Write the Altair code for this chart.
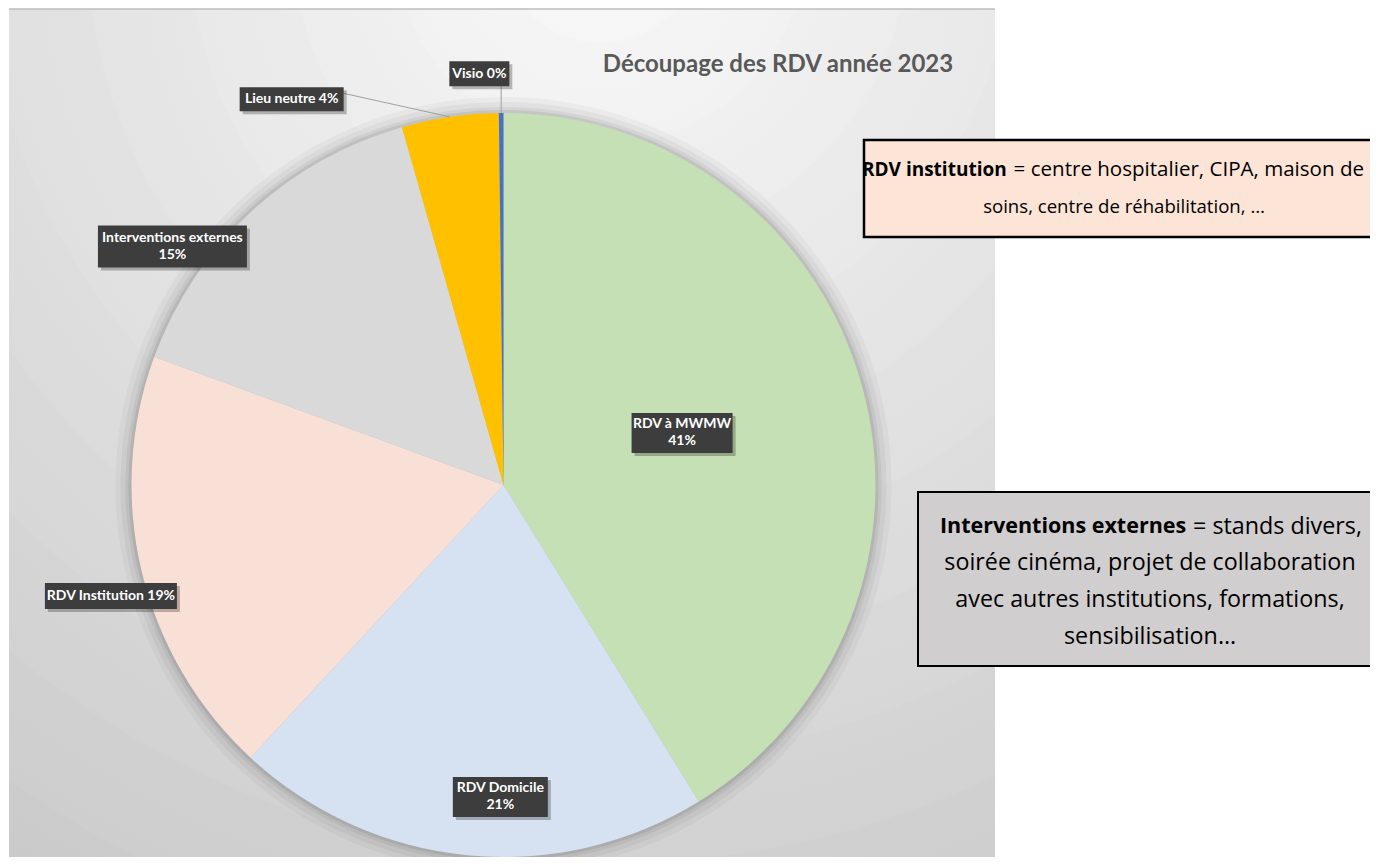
import math
import altair as alt
import pandas as pd

# ---------------- data ----------------
categories = ["RDV à MWMW", "RDV Domicile", "RDV Institution",
              "Interventions externes", "Lieu neutre", "Visio"]
values = [41.2, 20.7, 18.7, 15.0, 4.2, 0.2]
slice_colors = ["#c5e0b4", "#d6e1f2", "#f9e0d6", "#d9d9d9", "#ffc000", "#4472c4"]
title_text = "Découpage des RDV année 2023"

note1_bold = "RDV institution"
note1_rest = ["= centre hospitalier, CIPA, maison de", "soins, centre de réhabilitation, …"]
note2_bold = "Interventions externes"
note2_rest = ["= stands divers,", "soirée cinéma, projet de collaboration",
              "avec autres institutions, formations,", "sensibilisation…"]

# ---------------- layout (styles / positions) ----------------
W, H = 1362, 849
CX, CY, R = 495.5, 477, 372
label_two_lines = [True, True, False, True, False, False]
label_radius = [186, 312, 408, 408, 440, 412]
label_angle_shift = [-0.4, -5.0, -2.3, -11.4, -20.5, -3.0]
label_box_w = [101, 95, 132, 149, 104, 60]
label_box_h = [40, 40, 26, 42, 24, 25]
leader_kind = ["", "", "", "", "side", "below"]
LH = 17
FONT = "Lato"
NFONT = "Open Sans"

total = sum(values)
pie_df = pd.DataFrame({"category": categories, "value": values,
                       "idx": list(range(len(values)))})
one = pd.DataFrame({"k": [0]})

rows, leaders = [], []
cum = 0.0
for i, (cat, v) in enumerate(zip(categories, values)):
    mid_deg = (cum + v / 2) / total * 360
    cum += v
    a = math.radians(mid_deg + label_angle_shift[i])
    cx = CX + label_radius[i] * math.sin(a)
    cy = CY - label_radius[i] * math.cos(a)
    pct = f"{round(v / total * 100)}%"
    lines = [cat, pct] if label_two_lines[i] else [f"{cat} {pct}"]
    w, h = label_box_w[i], label_box_h[i]
    rows.append({"cx": cx, "cy": cy, "ty": cy - (len(lines) - 1) * LH / 2,
                 "x1": cx - w / 2, "x2": cx + w / 2,
                 "y1": cy - h / 2, "y2": cy + h / 2,
                 "sx1": cx - w / 2 + 3, "sx2": cx + w / 2 + 3,
                 "sy1": cy - h / 2 + 3, "sy2": cy + h / 2 + 3,
                 "lines": lines})
    am = math.radians(mid_deg)
    ex, ey = CX + R * math.sin(am), CY - R * math.cos(am)
    if leader_kind[i] == "side":
        leaders.append({"lx": cx + w / 2, "ly": cy - 6, "lx2": ex, "ly2": ey})
    elif leader_kind[i] == "below":
        leaders.append({"lx": ex, "ly": cy + h / 2, "lx2": ex, "ly2": ey})
lab_df = pd.DataFrame(rows)
lead_df = pd.DataFrame(leaders)

xs = alt.Scale(domain=[0, W], range=[0, W])
ys = alt.Scale(domain=[0, H], range=[0, H])

# ---------------- background panel ----------------
stops = []
nb = 12
for i in range(nb):
    t0, t1 = i / nb, (i + 1) / nb
    c0 = int(249 - 54 * t0)
    c1 = int(249 - 54 * t1) + 2
    stops.append(alt.GradientStop(offset=t0, color=f"rgb({c0},{c0},{c0})"))
    stops.append(alt.GradientStop(offset=t1, color=f"rgb({c1},{c1},{c1})"))
grad = alt.Gradient(gradient="radial", stops=stops,
                    x1=0.6, y1=0.0, r1=0.0, x2=0.6, y2=0.0, r2=1.25)

bg = alt.Chart(one).mark_rect(fill=grad).encode(
    x=alt.value(1), x2=alt.value(987), y=alt.value(1), y2=alt.value(H))
top_line = alt.Chart(one).mark_rule(color="#bdbdbd", strokeWidth=1.5).encode(
    x=alt.value(1), x2=alt.value(987), y=alt.value(1))

halos = []
for rad, op in [(388, 0.03), (383, 0.04), (378, 0.05), (375, 0.07)]:
    halos.append(alt.Chart(one).mark_arc(
        radius=rad, theta=0, theta2=2 * math.pi, color="#000000", opacity=op
    ).encode(x=alt.value(CX), y=alt.value(CY)))

pie = alt.Chart(pie_df).mark_arc(radius=R).encode(
    theta=alt.Theta("value:Q", stack=True),
    order=alt.Order("idx:Q"),
    color=alt.Color("category:N", scale=alt.Scale(domain=categories, range=slice_colors),
                    legend=None),
    x=alt.value(CX), y=alt.value(CY))

# ---------------- data labels ----------------
lead = alt.Chart(lead_df).mark_rule(color="#a0a0a0", strokeWidth=1).encode(
    x=alt.X("lx:Q", scale=xs, axis=None), y=alt.Y("ly:Q", scale=ys, axis=None),
    x2="lx2:Q", y2="ly2:Q")
shadow = alt.Chart(lab_df).mark_rect(color="#000000", opacity=0.25).encode(
    x=alt.X("sx1:Q", scale=xs, axis=None), x2="sx2:Q",
    y=alt.Y("sy1:Q", scale=ys, axis=None), y2="sy2:Q")
box = alt.Chart(lab_df).mark_rect(color="#3d3d3d").encode(
    x=alt.X("x1:Q", scale=xs, axis=None), x2="x2:Q",
    y=alt.Y("y1:Q", scale=ys, axis=None), y2="y2:Q")
txt = alt.Chart(lab_df).mark_text(font=FONT, fontWeight="bold", fontSize=14,
                                  color="white", lineHeight=LH, baseline="middle").encode(
    x=alt.X("cx:Q", scale=xs, axis=None), y=alt.Y("ty:Q", scale=ys, axis=None),
    text="lines")

title = alt.Chart(one).mark_text(text=title_text, font=FONT, fontWeight="bold",
                                 fontSize=24, color="#595959", align="center",
                                 baseline="middle").encode(
    x=alt.value(770), y=alt.value(57))

# ---------------- note boxes ----------------
nb1 = alt.Chart(one).mark_rect(fill="#fce4d6", stroke="#000000", strokeWidth=2.5).encode(
    x=alt.value(856), x2=alt.value(1368), y=alt.value(132), y2=alt.value(229))
n1a = alt.Chart(one).mark_text(text=note1_bold, font=NFONT, fontWeight="bold", fontSize=19,
                               align="left", baseline="middle", color="black").encode(
    x=alt.value(854), y=alt.value(162))
n1b = alt.Chart(one).mark_text(text=note1_rest[0], font=NFONT, fontSize=20.55,
                               align="right", baseline="middle", color="black").encode(
    x=alt.value(1356), y=alt.value(162))
n1c = alt.Chart(one).mark_text(text=note1_rest[1], font=NFONT, fontSize=18.6,
                               align="center", baseline="middle", color="black").encode(
    x=alt.value(1116), y=alt.value(199))

nb2 = alt.Chart(one).mark_rect(fill="#d0cece", stroke="#000000", strokeWidth=2).encode(
    x=alt.value(910), x2=alt.value(1370), y=alt.value(484), y2=alt.value(658))
n2a = alt.Chart(one).mark_text(text=note2_bold, font=NFONT, fontWeight="bold", fontSize=21.5,
                               align="left", baseline="middle", color="black").encode(
    x=alt.value(932), y=alt.value(519))
n2b = alt.Chart(one).mark_text(text=note2_rest[0], font=NFONT, fontSize=23.3,
                               align="right", baseline="middle", color="black").encode(
    x=alt.value(1354), y=alt.value(519))
n2c = alt.Chart(one).mark_text(text=note2_rest[1:], font=NFONT, fontSize=23.3, lineHeight=37,
                               align="center", baseline="middle", color="black").encode(
    x=alt.value(1142), y=alt.value(555))

chart = alt.layer(bg, top_line, *halos, pie, lead, shadow, box, txt, title,
                  nb1, n1a, n1b, n1c, nb2, n2a, n2b, n2c).properties(
    width=W, height=H, padding=0,
    autosize=alt.AutoSizeParams(type="fit", contains="padding"),
    background="white"
).configure_view(stroke=None)

chart.save("out.html", embed_options={"renderer": "svg", "actions": False})
